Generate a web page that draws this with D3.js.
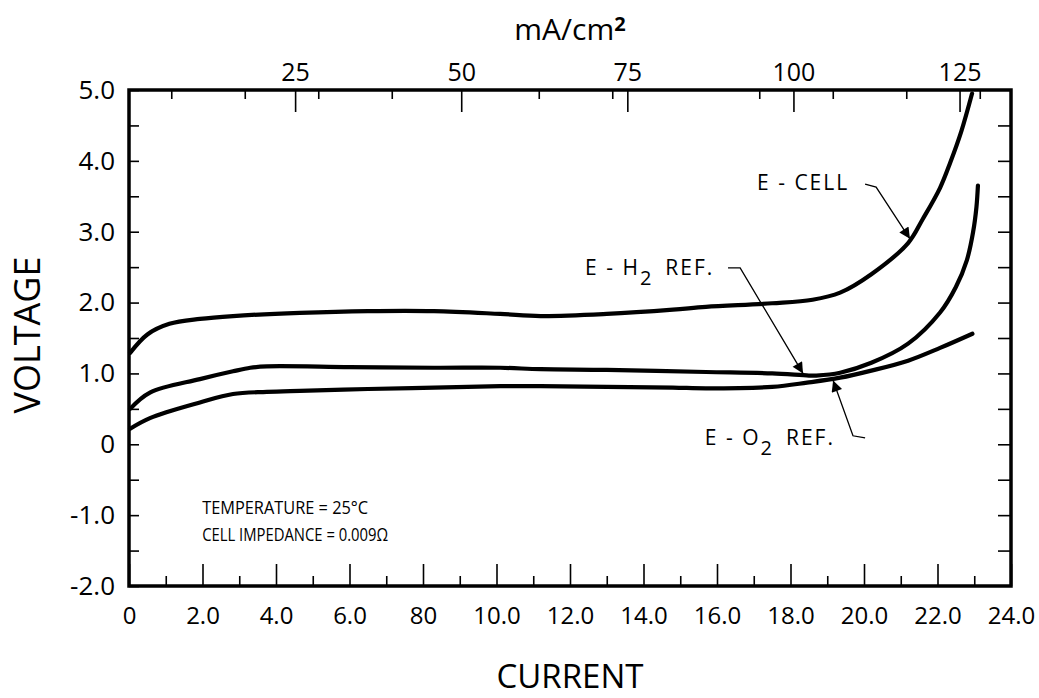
<!DOCTYPE html>
<html>
<head>
<meta charset="utf-8">
<script src="https://cdn.jsdelivr.net/npm/d3@7"></script>
<style>
  html, body { margin: 0; padding: 0; background: #fff; }
  svg { display: block; }
  text { font-family: "Open Sans", "DejaVu Sans", sans-serif; fill: #000; }
</style>
</head>
<body>
<svg id="chart" width="1039" height="698"></svg>
<script>
// ---------- data ----------
const currentMax = 24.0;
const voltMin = -2.0, voltMax = 5.0;
const mAperCurrent = 125 / 22.6;

const bottomTickValues = [0, 2, 4, 6, 8, 10, 12, 14, 16, 18, 20, 22, 24];
const bottomTickLabels = ["0", "2.0", "4.0", "6.0", "80", "10.0", "12.0", "14.0", "16.0", "18.0", "20.0", "22.0", "24.0"];
const bottomMinorTicks = [1, 3, 5, 7, 9, 11, 13, 15, 17, 19, 21, 23];

const leftTickValues = [5, 4, 3, 2, 1, 0, -1, -2];
const leftTickLabels = ["5.0", "4.0", "3.0", "2.0", "1.0", "0", "-1.0", "-2.0"];
const halfVoltTicks = [4.5, 3.5, 2.5, 1.5, 0.5, -0.5, -1.5];

const topTickValues = [25, 50, 75, 100, 125];
const topTickLabels = ["25", "50", "75", "100", "125"];
const topMinorCurrent = [1.15, 3.15, 5.15, 7.15, 11.15, 13.15, 17.15, 19.15, 21.15, 23.15];

// E-CELL curve (current, voltage)
const eCellCurrent = [0.03, 0.5, 1.1, 1.93, 2.83, 4.65, 6.5, 8.3, 10.1, 11.2, 13.0, 14.8, 15.7, 17.5, 18.6, 19.35, 20.2, 21.2, 21.6, 22.07, 22.35, 22.65, 22.94];
const eCellVoltage = [1.29, 1.55, 1.70, 1.77, 1.81, 1.855, 1.88, 1.88, 1.84, 1.81, 1.84, 1.90, 1.94, 1.99, 2.04, 2.14, 2.40, 2.84, 3.18, 3.62, 3.98, 4.42, 4.95];

// E-H2 REF curve
const eH2Current = [0.03, 0.57, 1.93, 2.83, 3.3, 3.75, 6.0, 8.3, 10.1, 11.2, 13.0, 15.7, 17.5, 18.5, 18.7, 19.35, 20.2, 21.2, 22.07, 22.5, 22.8, 22.97, 23.06, 23.1];
const eH2Voltage = [0.50, 0.73, 0.92, 1.03, 1.08, 1.10, 1.09, 1.08, 1.08, 1.06, 1.05, 1.02, 1.00, 0.97, 0.97, 1.01, 1.15, 1.42, 1.86, 2.22, 2.60, 3.00, 3.35, 3.65];

// E-O2 REF curve
const eO2Current = [0.03, 0.57, 1.93, 2.83, 3.75, 4.65, 6.5, 8.3, 10.1, 11.2, 13.0, 14.8, 15.7, 17.5, 18.45, 19.35, 20.2, 21.2, 22.07, 22.95];
const eO2Voltage = [0.22, 0.37, 0.59, 0.71, 0.74, 0.755, 0.78, 0.80, 0.82, 0.82, 0.81, 0.80, 0.79, 0.81, 0.87, 0.94, 1.04, 1.18, 1.36, 1.56];

// annotation leaders (current, voltage)
const cellLeader = [[20.03, 3.67], [20.33, 3.63], [21.25, 2.90]];
const h2Leader = [[16.3, 2.49], [16.63, 2.49], [18.34, 1.0]];
const o2Leader = [[20.03, 0.09], [19.7, 0.12], [19.16, 0.90]];

// ---------- layout ----------
const svg = d3.select("#chart");
const L = 129, R = 1011, T = 90, B = 586;

const x = d3.scaleLinear().domain([0, currentMax]).range([L, R]);
const xTop = d3.scaleLinear().domain([0, currentMax * mAperCurrent]).range([L, R]);
const y = d3.scaleLinear().domain([voltMin, voltMax]).range([B, T]);

// ---------- axes (ticks inward) ----------
const bottomAxis = d3.axisBottom(x).tickValues(bottomTickValues)
  .tickSize(-22).tickPadding(33)
  .tickFormat((d, i) => bottomTickLabels[i]);
const gB = svg.append("g").attr("transform", `translate(0,${B})`).call(bottomAxis);
gB.select(".domain").remove();
gB.selectAll(".tick line").attr("stroke-width", 1.6);
gB.selectAll(".tick text").style("font-size", "24px").attr("dy", "0.2em");

const bottomMinor = d3.axisBottom(x).tickValues(bottomMinorTicks).tickSize(-10).tickFormat("");
const gBm = svg.append("g").attr("transform", `translate(0,${B})`).call(bottomMinor);
gBm.select(".domain").remove();
gBm.selectAll(".tick line").attr("stroke-width", 1.6);

const leftAxis = d3.axisLeft(y).tickValues(leftTickValues)
  .tickSize(-10).tickPadding(14)
  .tickFormat((d, i) => leftTickLabels[i]);
const gL = svg.append("g").attr("transform", `translate(${L},0)`).call(leftAxis);
gL.select(".domain").remove();
gL.selectAll(".tick line").attr("stroke-width", 1.6);
gL.selectAll(".tick text").style("font-size", "26px");

const leftMinor = d3.axisLeft(y).tickValues(halfVoltTicks).tickSize(-10).tickFormat("");
const gLm = svg.append("g").attr("transform", `translate(${L},0)`).call(leftMinor);
gLm.select(".domain").remove();
gLm.selectAll(".tick line").attr("stroke-width", 1.6);

const rightAxis = d3.axisRight(y).tickValues(d3.range(-1.5, 5.0, 0.5)).tickSize(-13).tickFormat("");
const gR = svg.append("g").attr("transform", `translate(${R},0)`).call(rightAxis);
gR.select(".domain").remove();
gR.selectAll(".tick line").attr("stroke-width", 1.6);

const topAxis = d3.axisTop(xTop).tickValues(topTickValues)
  .tickSize(-22).tickPadding(9)
  .tickFormat((d, i) => topTickLabels[i]);
const gT = svg.append("g").attr("transform", `translate(0,${T})`).call(topAxis);
gT.select(".domain").remove();
gT.selectAll(".tick line").attr("stroke-width", 1.6);
gT.selectAll(".tick text").style("font-size", "25px");

const topMinor = d3.axisTop(x).tickValues(topMinorCurrent).tickSize(-9).tickFormat("");
const gTm = svg.append("g").attr("transform", `translate(0,${T})`).call(topMinor);
gTm.select(".domain").remove();
gTm.selectAll(".tick line").attr("stroke-width", 1.6);

// frame
svg.append("rect")
  .attr("x", L).attr("y", T).attr("width", R - L).attr("height", B - T)
  .attr("fill", "none").attr("stroke", "#000").attr("stroke-width", 3.5);

// ---------- curves ----------
const line = d3.line().x(d => x(d[0])).y(d => y(d[1])).curve(d3.curveCatmullRom.alpha(0.5));
const series = [
  d3.zip(eCellCurrent, eCellVoltage),
  d3.zip(eH2Current, eH2Voltage),
  d3.zip(eO2Current, eO2Voltage)
];
svg.append("g").selectAll("path").data(series).join("path")
  .attr("d", line)
  .attr("fill", "none").attr("stroke", "#000").attr("stroke-width", 4.2)
  .attr("stroke-linecap", "round").attr("stroke-linejoin", "round");

// ---------- annotations ----------
const defs = svg.append("defs");
defs.append("marker").attr("id", "arr")
  .attr("viewBox", "0 0 10 10").attr("refX", 10).attr("refY", 5)
  .attr("markerWidth", 26).attr("markerHeight", 11)
  .attr("markerUnits", "userSpaceOnUse")
  .attr("orient", "auto")
  .append("path").attr("d", "M0,0 L10,5 L0,10 Z").attr("fill", "#000");

const leaderLine = d3.line().x(d => x(d[0])).y(d => y(d[1]));
[cellLeader, h2Leader, o2Leader].forEach(pts => {
  svg.append("path").attr("d", leaderLine(pts))
    .attr("fill", "none").attr("stroke", "#000").attr("stroke-width", 1.3)
    .attr("marker-end", "url(#arr)");
});

const annFont = "21px";
// E-CELL
svg.append("text").attr("x", x(17.09)).attr("y", y(3.69)).attr("dy", "0.35em")
  .style("font-size", annFont).style("letter-spacing", "2px").text("E - CELL");

// E-H2 REF.
const th2 = svg.append("text").attr("x", x(12.41)).attr("y", y(2.49)).attr("dy", "0.35em")
  .style("font-size", annFont).style("letter-spacing", "2px");
th2.append("tspan").text("E - H");
th2.append("tspan").attr("dy", "0.5em").style("font-size", "20px").text("2");
th2.append("tspan").attr("dy", "-0.5em").attr("dx", "12").text("REF.");

// E-O2 REF.
const to2 = svg.append("text").attr("x", x(15.67)).attr("y", y(0.09)).attr("dy", "0.35em")
  .style("font-size", annFont).style("letter-spacing", "2px");
to2.append("tspan").text("E - O");
to2.append("tspan").attr("dy", "0.5em").style("font-size", "20px").text("2");
to2.append("tspan").attr("dy", "-0.5em").attr("dx", "12").text("REF.");

// condition notes
svg.append("text").attr("x", x(1.99)).attr("y", y(-0.90)).attr("dy", "0.35em")
  .attr("textLength", 166).attr("lengthAdjust", "spacingAndGlyphs")
  .style("font-size", "18px").text("TEMPERATURE = 25°C");
svg.append("text").attr("x", x(1.99)).attr("y", y(-1.27)).attr("dy", "0.35em")
  .attr("textLength", 186).attr("lengthAdjust", "spacingAndGlyphs")
  .style("font-size", "18px").text("CELL  IMPEDANCE = 0.009Ω");

// ---------- axis titles ----------
svg.append("text").attr("x", (L + R) / 2).attr("y", 688)
  .attr("text-anchor", "middle").style("font-size", "33px").text("CURRENT");

svg.append("text").attr("transform", `translate(27,${(T + B) / 2 - 3}) rotate(-90)`)
  .attr("dy", "0.35em").attr("text-anchor", "middle")
  .style("font-size", "36px").text("VOLTAGE");

const mt = svg.append("text").attr("x", (L + R) / 2).attr("y", 29).attr("dy", "0.35em")
  .attr("text-anchor", "middle").style("font-size", "30px");
mt.append("tspan").text("mA/cm");
mt.append("tspan").attr("dy", "-0.45em").style("font-size", "20px").style("font-weight", "bold").text("2");
</script>
</body>
</html>
